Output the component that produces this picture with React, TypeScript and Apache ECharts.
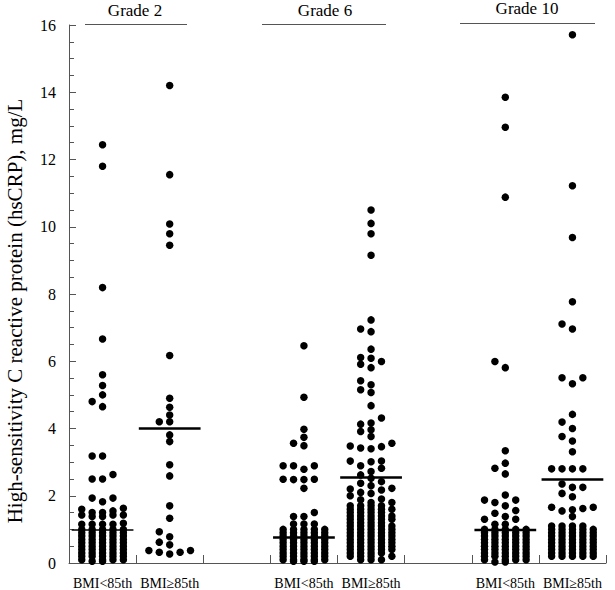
import React, { useEffect, useRef } from "react";
import * as echarts from "echarts";

const categories = ["BMI<85th", "BMI≥85th", "", "BMI<85th", "BMI≥85th", "", "BMI<85th", "BMI≥85th"];
const gradeLabels = ["Grade 2", "Grade 6", "Grade 10"];
const yTitle = "High-sensitivity C reactive protein (hsCRP), mg/L";

const g2Low = [12.44, 11.8, 8.19, 6.66, 5.6, 5.28, 5.0, 4.8, 4.65, 3.18, 3.18, 2.63, 2.5, 2.5, 1.93, 1.93, 1.82, 1.63, 1.6, 1.55, 1.5, 1.5, 1.43, 1.43, 1.43, 1.38, 1.38, 1.18, 1.15, 1.15, 1.15, 1.15,
  1.0, 1.0, 1.0, 1.0, 1.0, 0.9, 0.9, 0.9, 0.9, 0.9, 0.8, 0.8, 0.8, 0.8, 0.8, 0.7, 0.7, 0.7, 0.7, 0.7, 0.6, 0.6, 0.6, 0.6, 0.6,
  0.5, 0.5, 0.5, 0.5, 0.5, 0.4, 0.4, 0.4, 0.4, 0.4, 0.3, 0.3, 0.3, 0.3, 0.3, 0.2, 0.2, 0.2, 0.2, 0.2, 0.1, 0.1, 0.1, 0.1, 0.05, 0.05];
const g2High = [14.2, 11.55, 10.08, 9.79, 9.45, 6.17, 4.9, 4.63, 4.4, 4.2, 4.2, 3.81, 3.61, 2.92, 2.59, 1.7, 1.33, 0.93, 0.78, 0.62, 0.54, 0.37, 0.37, 0.32, 0.32, 0.27];
const g6Low = [6.46, 4.93, 3.98, 3.74, 3.56, 3.49, 2.89, 2.89, 2.89, 2.79, 2.49, 2.49, 2.48, 2.48, 2.22, 1.5, 1.38, 1.38, 1.16, 1.16, 1.16,
  1.0, 1.0, 1.0, 1.0, 1.0, 0.9, 0.9, 0.9, 0.9, 0.9, 0.8, 0.8, 0.8, 0.8, 0.8, 0.7, 0.7, 0.7, 0.7, 0.7, 0.6, 0.6, 0.6, 0.6, 0.6,
  0.5, 0.5, 0.5, 0.5, 0.5, 0.4, 0.4, 0.4, 0.4, 0.4, 0.3, 0.3, 0.3, 0.3, 0.3, 0.2, 0.2, 0.2, 0.2, 0.2, 0.1, 0.1, 0.1, 0.1, 0.1, 0.05, 0.05, 0.05];
const g6High = [10.5, 10.1, 9.79, 9.15, 7.23, 6.96, 6.88, 6.36, 6.11, 6.09, 5.99, 5.91, 5.81, 5.42, 5.3, 5.15, 5.07, 4.68, 4.31, 4.16, 4.13, 3.96, 3.91, 3.76, 3.56, 3.48, 3.46, 3.42, 3.4, 3.03, 3.03, 3.01, 2.89, 2.82, 2.72, 2.62, 2.52, 2.42, 2.37, 2.3, 2.22, 2.2, 2.17, 2.1, 2.07, 2.0, 1.9, 1.88, 1.8, 1.8,
  1.7, 1.7, 1.7, 1.7, 1.6, 1.6, 1.6, 1.6, 1.6, 1.5, 1.5, 1.5, 1.5, 1.4, 1.4, 1.4, 1.4, 1.4, 1.3, 1.3, 1.3, 1.3, 1.3, 1.2, 1.2, 1.2, 1.2,
  1.1, 1.1, 1.1, 1.1, 1.1, 1.0, 1.0, 1.0, 1.0, 1.0, 0.9, 0.9, 0.9, 0.9, 0.9, 0.8, 0.8, 0.8, 0.8, 0.8, 0.7, 0.7, 0.7, 0.7, 0.7,
  0.6, 0.6, 0.6, 0.6, 0.6, 0.5, 0.5, 0.5, 0.5, 0.5, 0.4, 0.4, 0.4, 0.4, 0.4, 0.3, 0.3, 0.3, 0.3, 0.2, 0.2, 0.2, 0.2, 0.1, 0.1, 0.1];
const g10Low = [13.85, 12.96, 10.88, 5.99, 5.81, 3.34, 2.97, 2.82, 2.65, 2.02, 1.87, 1.87, 1.8, 1.7, 1.56, 1.48, 1.38, 1.3, 1.3, 1.15, 1.15,
  1.0, 1.0, 1.0, 1.0, 1.0, 0.9, 0.9, 0.9, 0.9, 0.9, 0.8, 0.8, 0.8, 0.8, 0.8, 0.7, 0.7, 0.7, 0.7, 0.7, 0.6, 0.6, 0.6, 0.6, 0.6,
  0.5, 0.5, 0.5, 0.5, 0.5, 0.4, 0.4, 0.4, 0.4, 0.4, 0.3, 0.3, 0.3, 0.3, 0.3, 0.2, 0.2, 0.2, 0.2, 0.2, 0.1, 0.1, 0.1, 0.1, 0.03, 0.03];
const g10High = [15.71, 11.22, 9.68, 7.77, 7.11, 6.96, 5.51, 5.51, 5.33, 4.42, 4.19, 4.0, 3.76, 3.63, 3.31, 2.8, 2.8, 2.8, 2.8, 2.35, 2.25, 2.25, 2.07, 1.97, 1.66, 1.66, 1.62, 1.58, 1.55, 1.38,
  1.1, 1.1, 1.1, 1.1, 1.0, 1.0, 1.0, 1.0, 1.0, 0.9, 0.9, 0.9, 0.9, 0.9, 0.8, 0.8, 0.8, 0.8, 0.8, 0.7, 0.7, 0.7, 0.7, 0.7,
  0.6, 0.6, 0.6, 0.6, 0.6, 0.5, 0.5, 0.5, 0.5, 0.5, 0.4, 0.4, 0.4, 0.4, 0.4, 0.3, 0.3, 0.3, 0.3, 0.3, 0.2, 0.2, 0.2, 0.2, 0.2];

// category slot -> values
const groups: [number, number[]][] = [[0, g2Low], [1, g2High], [3, g6Low], [4, g6High], [6, g10Low], [7, g10High]];
const means: [number, number][] = [[0, 0.98], [1, 4.0], [3, 0.76], [4, 2.54], [6, 0.98], [7, 2.48]];

const FONT = "'Liberation Serif', 'Times New Roman', serif";

function swarm(values: number[], center: number, step: number, minGap: number): number[][] {
  const order = [0, -1, 1, -2, 2];
  const placed: number[][] = order.map(() => []);
  const sorted = [...values].sort((a, b) => a - b);
  const out: number[][] = [];
  for (const v of sorted) {
    let best = 0;
    let bestDist = -1;
    for (let k = 0; k < order.length; k++) {
      let d = Infinity;
      for (const y of placed[k]) d = Math.min(d, Math.abs(y - v));
      if (d >= minGap) { best = k; bestDist = Infinity; break; }
      if (d > bestDist + 1e-9) { bestDist = d; best = k; }
    }
    placed[best].push(v);
    out.push([center + order[best] * step, v]);
  }
  return out;
}

export default function App() {
  const ref = useRef<HTMLDivElement>(null);
  useEffect(() => {
    if (!ref.current) return;
    const chart = echarts.init(ref.current, undefined, { renderer: "svg" });
    const scatterSeries = groups.map(([slot, vals]) => ({
      type: "scatter",
      xAxisIndex: 0,
      yAxisIndex: 0,
      symbol: "circle",
      symbolSize: 7.5,
      itemStyle: { color: "#000", opacity: 1 },
      data: swarm(vals, slot + 0.5, 0.155, 0.2),
      z: 2,
    }));
    const meanSeries = means.map(([slot, m]) => ({
      type: "line",
      xAxisIndex: 0,
      yAxisIndex: 0,
      symbol: "none",
      lineStyle: { color: "#000", width: slot === 0 ? 1.5 : 2.5 },
      data: [[slot + 0.04, m], [slot + 0.96, m]],
      z: 5,
    }));
    chart.setOption({
      animation: false,
      backgroundColor: "#fff",
      grid: { left: 69, right: 9, top: 25, bottom: 27, containLabel: false },
      xAxis: [
        {
          type: "value", min: 0, max: 8, interval: 1,
          axisLine: { show: true, lineStyle: { color: "#555", width: 1 } },
          axisTick: { show: true, inside: true, length: 8, lineStyle: { color: "#555" } },
          axisLabel: { show: false },
          splitLine: { show: false },
        },
        {
          type: "category", data: categories, position: "bottom", boundaryGap: true,
          axisLine: { show: false }, axisTick: { show: false }, splitLine: { show: false },
          axisLabel: { interval: 0, fontFamily: FONT, fontSize: 14, color: "#000", margin: 13 },
        },
      ],
      yAxis: {
        type: "value", min: 0, max: 16, interval: 2,
        axisLine: { show: true, lineStyle: { color: "#555", width: 1 } },
        axisTick: { show: true, inside: true, length: 7, lineStyle: { color: "#555" } },
        minorTick: { show: true, splitNumber: 4, length: 5, lineStyle: { color: "#555" } },
        axisLabel: { fontFamily: FONT, fontSize: 16, color: "#000", margin: 13 },
        splitLine: { show: false },
        minorSplitLine: { show: false },
      },
      graphic: [
        { type: "text", x: 15, y: 311, rotation: Math.PI / 2, style: { text: yTitle, font: `21px ${FONT}`, fill: "#000", textAlign: "center", textVerticalAlign: "middle" } },
        { type: "text", x: 135, y: 10, style: { text: gradeLabels[0], font: `17px ${FONT}`, fill: "#000", textAlign: "center", textVerticalAlign: "middle" } },
        { type: "text", x: 325, y: 10, style: { text: gradeLabels[1], font: `17px ${FONT}`, fill: "#000", textAlign: "center", textVerticalAlign: "middle" } },
        { type: "text", x: 527, y: 8, style: { text: gradeLabels[2], font: `17px ${FONT}`, fill: "#000", textAlign: "center", textVerticalAlign: "middle" } },
        { type: "line", shape: { x1: 85, y1: 24.5, x2: 187, y2: 24.5 }, style: { stroke: "#555", lineWidth: 1 } },
        { type: "line", shape: { x1: 262, y1: 24.5, x2: 386, y2: 24.5 }, style: { stroke: "#555", lineWidth: 1 } },
        { type: "line", shape: { x1: 460, y1: 23.5, x2: 595, y2: 23.5 }, style: { stroke: "#555", lineWidth: 1 } },
      ],
      series: [...scatterSeries, ...meanSeries],
    });
    return () => chart.dispose();
  }, []);
  return <div ref={ref} style={{ position: "fixed", left: 0, top: 0, width: 615, height: 590 }} />;
}
